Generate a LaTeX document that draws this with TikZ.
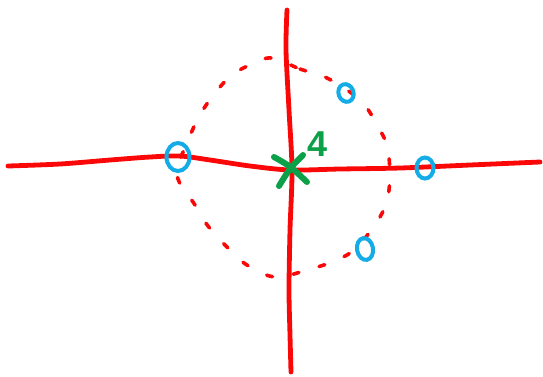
\documentclass[tikz,border=0pt]{standalone}
\usepackage{fontspec}
\setmainfont{Liberation Sans}
\usetikzlibrary{shapes.geometric}
\definecolor{pen}{RGB}{250,8,8}
\definecolor{zer}{RGB}{20,172,230}
\definecolor{pol}{RGB}{12,160,72}
\begin{document}
\begin{tikzpicture}[x=1pt,y=-1pt,
  axis/.style={pen,line width=4.8pt,line cap=round,line join=round},
  unitc/.style={pen,line width=3.6pt,line cap=round,dash pattern=on 6pt off 21pt},
  zero/.style={draw=zer,line width=4pt,ellipse,inner sep=0pt},
  polemark/.style={pol,line width=6pt,line cap=round}]
\useasboundingbox (0,0) rectangle (543,376);
% unit circle (dashed)
\draw[unitc] plot[smooth cycle,tension=0.6] coordinates {
  (272,58) (300,69) (327,78) (360,100) (377,125) (388,150) (389,190) (380,217)
  (357,247) (337,260) (307,270) (275,277) (247,265) (228,248) (208,226)
  (195,205) (177,175) (187,143) (200,115) (215,93) (232,75) (252,64)};
% axes
\draw[axis] plot[smooth,tension=0.5] coordinates {
  (8,166) (60,164) (110,160) (150,157) (180,156) (210,160) (250,166) (290,170)
  (340,169) (400,168) (470,165) (540,162)};
\draw[axis] plot[smooth,tension=0.5] coordinates {
  (287,10) (286,50) (289,110) (292,170) (290,230) (289,290) (290,335) (291,372)};
% zeros
\node[zero,minimum width=23pt,minimum height=28pt] (z1) at (178,157) {};
\node[zero,minimum width=15pt,minimum height=18pt,rotate=20] (z2) at (346,93) {};
\node[zero,minimum width=17pt,minimum height=21pt] (z3) at (425,168) {};
\node[zero,minimum width=16pt,minimum height=22pt,rotate=10] (z4) at (365,249) {};
% pole of order 4
\coordinate (p) at (291,170);
\draw[polemark] (274,157) .. controls (290,166) .. (307,182);
\draw[polemark] (303,155) .. controls (290,168) .. (279,186);
\node[pol,font=\fontsize{36}{36}\selectfont\bfseries,inner sep=0pt] (n) at (318,144) {4};
\end{tikzpicture}
\end{document}
